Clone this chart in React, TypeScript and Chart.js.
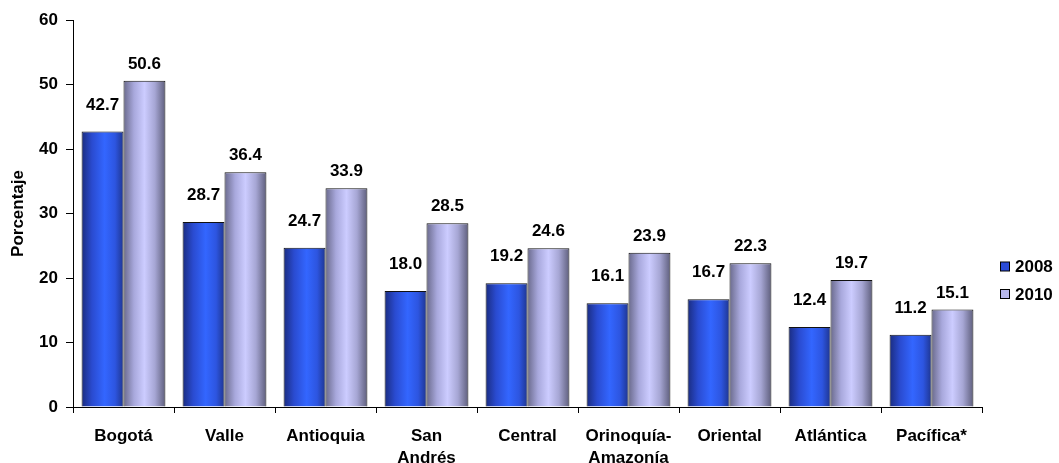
import React, { useEffect, useRef } from "react";
import { Chart, registerables } from "chart.js";

Chart.register(...registerables);

const categories: (string | string[])[] = [
  "Bogotá",
  "Valle",
  "Antioquia",
  ["San", "Andrés"],
  "Central",
  ["Orinoquía-", "Amazonía"],
  "Oriental",
  "Atlántica",
  "Pacífica*",
];
const series2008 = [42.7, 28.7, 24.7, 18.0, 19.2, 16.1, 16.7, 12.4, 11.2];
const series2010 = [50.6, 36.4, 33.9, 28.5, 24.6, 23.9, 22.3, 19.7, 15.1];
const seriesLabels = ["2008", "2010"];
const yTicks = [0, 10, 20, 30, 40, 50, 60];

const FONT = "Arial, 'Liberation Sans', sans-serif";
const CAT_PCT = 0.83;

const gradStops: [number, string][][] = [
  [
    [0, "#1a2c80"],
    [0.25, "#2a4bd0"],
    [0.55, "#3366ff"],
    [0.8, "#2d55e0"],
    [1, "#1e3590"],
  ],
  [
    [0, "#6a6a8c"],
    [0.25, "#a8a8dc"],
    [0.5, "#ccccff"],
    [0.75, "#a6a6d4"],
    [1, "#5e5e7c"],
  ],
];
const legendColors = ["#2a4bd8", "#b8b8ec"];

function barBg(ctx: any) {
  const chart = ctx.chart;
  const xs = chart.scales && chart.scales.x;
  const ds = ctx.datasetIndex;
  if (!xs || ctx.type !== "data" || !chart.chartArea) return legendColors[ds];
  const n = categories.length;
  const center = xs.getPixelForValue(ctx.dataIndex);
  const catW = xs.width / n;
  const bw = (catW * CAT_PCT) / 2;
  const left = ds === 0 ? center - bw : center;
  const g = chart.ctx.createLinearGradient(left, 0, left + bw, 0);
  gradStops[ds].forEach(([o, c]) => g.addColorStop(o, c));
  return g;
}

const labelPlugin = {
  id: "valueLabels",
  afterDatasetsDraw(chart: any) {
    const ctx = chart.ctx;
    ctx.save();
    ctx.font = `bold 17px ${FONT}`;
    ctx.fillStyle = "#000";
    ctx.textAlign = "center";
    ctx.textBaseline = "alphabetic";
    chart.data.datasets.forEach((ds: any, di: number) => {
      const meta = chart.getDatasetMeta(di);
      const gap = di === 0 ? 22 : 12;
      meta.data.forEach((el: any, i: number) => {
        ctx.fillText(Number(ds.data[i]).toFixed(1), el.x, el.y - gap);
      });
    });
    ctx.restore();
  },
};

const legendPlugin = {
  id: "customLegend",
  afterDraw(chart: any) {
    const ctx = chart.ctx;
    ctx.save();
    ctx.font = `bold 17px ${FONT}`;
    ctx.textBaseline = "middle";
    ctx.textAlign = "left";
    chart.data.datasets.forEach((ds: any, di: number) => {
      const y = 266.5 + di * 27.5;
      ctx.fillStyle = legendColors[di];
      ctx.fillRect(1000.5, y - 4.5, 9, 9);
      ctx.strokeStyle = "#000";
      ctx.lineWidth = 1;
      ctx.strokeRect(1000.5, y - 4.5, 9, 9);
      ctx.fillStyle = "#000";
      ctx.fillText(ds.label, 1015, y + 1);
    });
    ctx.restore();
  },
};

export default function App() {
  const ref = useRef<HTMLCanvasElement | null>(null);
  useEffect(() => {
    if (!ref.current) return;
    const chart = new Chart(ref.current, {
      type: "bar",
      data: {
        labels: categories as any,
        datasets: [
          {
            label: seriesLabels[0],
            data: series2008,
            backgroundColor: barBg as any,
            borderColor: "#111",
            borderWidth: 1,
            categoryPercentage: CAT_PCT,
            barPercentage: 1,
          },
          {
            label: seriesLabels[1],
            data: series2010,
            backgroundColor: barBg as any,
            borderColor: "#111",
            borderWidth: 1,
            categoryPercentage: CAT_PCT,
            barPercentage: 1,
          },
        ],
      },
      options: {
        animation: false,
        responsive: false,
        layout: { padding: { top: 20, right: 77, left: 0, bottom: 0 } },
        plugins: {
          legend: { display: false },
          tooltip: { enabled: false },
        },
        scales: {
          x: {
            grid: {
              display: true,
              drawOnChartArea: false,
              drawTicks: true,
              tickLength: 6,
              color: "#000",
              offset: true,
            },
            border: { color: "#000", width: 1 },
            ticks: {
              color: "#000",
              font: { family: FONT, size: 17, weight: "bold", lineHeight: 1.3 },
              padding: 12,
              maxRotation: 0,
              autoSkip: false,
            },
            afterFit(scale: any) {
              scale.height = 56;
            },
          },
          y: {
            min: 0,
            max: 60,
            afterBuildTicks(scale: any) {
              scale.ticks = yTicks.map((v) => ({ value: v }));
            },
            grid: {
              display: true,
              drawOnChartArea: false,
              drawTicks: true,
              tickLength: 7,
              color: "#000",
            },
            border: { color: "#000", width: 1 },
            ticks: {
              color: "#000",
              font: { family: FONT, size: 17, weight: "bold" },
              padding: 8,
            },
            title: {
              display: true,
              text: "Porcentaje",
              color: "#000",
              font: { family: FONT, size: 17, weight: "bold" },
              padding: { top: 8, bottom: 0 },
            },
            afterFit(scale: any) {
              scale.width = 73;
            },
          },
        },
      },
      plugins: [labelPlugin, legendPlugin],
    });
    return () => chart.destroy();
  }, []);
  return (
    <div style={{ position: "absolute", left: 0, top: 0, width: 1059, height: 463, background: "#fff" }}>
      <canvas ref={ref} width={1059} height={463} style={{ width: 1059, height: 463, display: "block" }} />
    </div>
  );
}
